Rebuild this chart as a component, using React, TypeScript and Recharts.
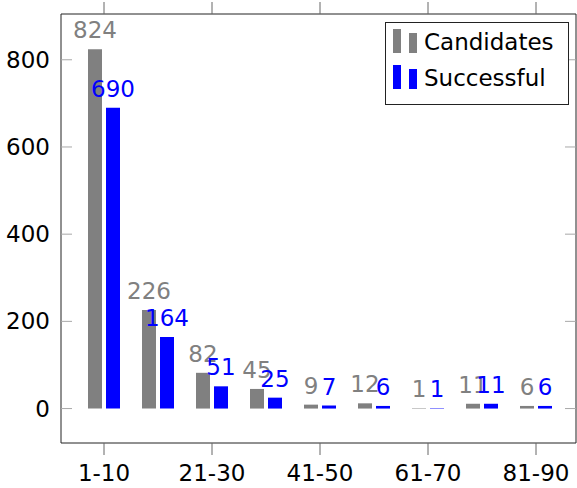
import React from "react";
import {
  BarChart,
  Bar,
  XAxis,
  YAxis,
  LabelList,
} from "recharts";

const categories = ["1-10", "11-20", "21-30", "31-40", "41-50", "51-60", "61-70", "71-80", "81-90"];
const candidates = [824, 226, 82, 45, 9, 12, 1, 11, 6];
const successful = [690, 164, 51, 25, 7, 6, 1, 11, 6];
const yTicks = [0, 200, 400, 600, 800];

const data = categories.map((range, i) => ({
  range,
  candidates: candidates[i],
  successful: successful[i],
}));

const FONT = "'DejaVu Sans', sans-serif";
const GRAY = "#808080";
const BLUE = "#0000ff";
const FRAME = "#222";

function LeftTick(props: any) {
  const { x, y, payload } = props;
  return (
    <g>
      <line x1={x} x2={x + 11} y1={y} y2={y} stroke="#a8a8a8" />
      <text x={x - 11} y={y} dy={8} textAnchor="end" fontSize={23} fill="#000" fontFamily={FONT}>
        {payload.value}
      </text>
    </g>
  );
}

function RightTick(props: any) {
  const { x, y } = props;
  return <line x1={x - 11} x2={x} y1={y} y2={y} stroke="#a8a8a8" />;
}

function LegendBox() {
  const items = [
    { name: "Candidates", color: GRAY },
    { name: "Successful", color: BLUE },
  ];
  return (
    <div
      style={{
        position: "absolute",
        left: 385,
        top: 22,
        width: 182,
        height: 81,
        border: "1px solid #222",
        background: "#fff",
        fontFamily: FONT,
        fontSize: 23,
      }}
    >
      {items.map((it, i) => (
        <div key={it.name} style={{ position: "relative", height: 36, marginTop: i === 0 ? 5 : 0 }}>
          <div style={{ position: "absolute", left: 7, top: 1, width: 8, height: 24, background: it.color }} />
          <div style={{ position: "absolute", left: 23, top: 5, width: 8, height: 20, background: it.color }} />
          <div style={{ position: "absolute", left: 38, top: -1, lineHeight: "30px", color: "#000" }}>
            {it.name}
          </div>
        </div>
      ))}
    </div>
  );
}

export default function App() {
  return (
    <div style={{ position: "absolute", left: 0, top: 0, width: 577, height: 488, background: "#fff" }}>
      <BarChart
        width={577}
        height={488}
        data={data}
        margin={{ top: 0, right: 0, left: 0, bottom: 0 }}
        barSize={14}
        barGap={4}
      >
        <XAxis
          dataKey="range"
          interval={1}
          padding={{ left: 16, right: 13 }}
          height={45}
          tickSize={12}
          tickMargin={10}
          stroke={FRAME}
          tickLine={{ stroke: "#666" }}
          tick={{ fill: "#000", fontSize: 23, fontFamily: FONT }}
        />
        <XAxis
          xAxisId="top"
          orientation="top"
          dataKey="range"
          interval={1}
          padding={{ left: 16, right: 13 }}
          height={14}
          tickSize={12}
          stroke={FRAME}
          tickLine={{ stroke: "#666" }}
          tickFormatter={() => ""}
        />
        <YAxis
          width={61}
          domain={[-79, 905]}
          ticks={yTicks}
          allowDataOverflow
          tickSize={0}
          tickMargin={0}
          stroke={FRAME}
          tick={<LeftTick />}
        />
        <YAxis
          yAxisId="right"
          orientation="right"
          width={1}
          domain={[-79, 905]}
          ticks={yTicks}
          allowDataOverflow
          tickSize={0}
          tickMargin={0}
          stroke={FRAME}
          tick={<RightTick />}
        />
        <Bar dataKey="candidates" name="Candidates" fill={GRAY} isAnimationActive={false}>
          <LabelList
            dataKey="candidates"
            position="top"
            offset={11}
            fill={GRAY}
            fontSize={23}
            fontFamily={FONT}
          />
        </Bar>
        <Bar dataKey="successful" name="Successful" fill={BLUE} isAnimationActive={false}>
          <LabelList
            dataKey="successful"
            position="top"
            offset={11}
            fill={BLUE}
            fontSize={23}
            fontFamily={FONT}
          />
        </Bar>
      </BarChart>
      <LegendBox />
    </div>
  );
}
